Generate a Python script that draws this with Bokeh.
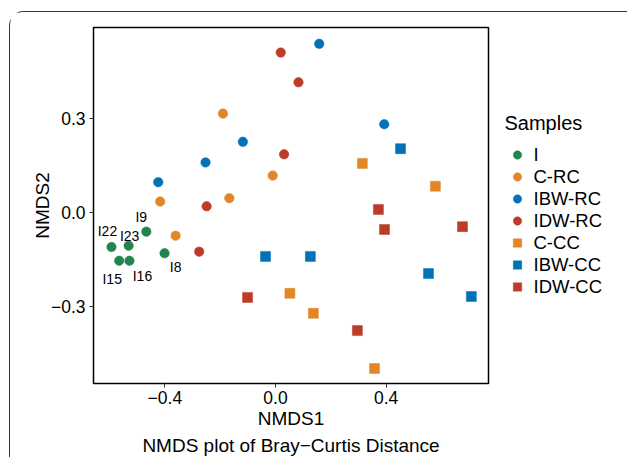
from bokeh.plotting import figure
from bokeh.models import (Range1d, FixedTicker, Legend, LegendItem, LabelSet,
                          ColumnDataSource, Title)
from bokeh.core.properties import value
from bokeh.embed import file_html
from bokeh.resources import INLINE

# ---------------- data ----------------
groups = ["I", "C-RC", "IBW-RC", "IDW-RC", "C-CC", "IBW-CC", "IDW-CC"]
colors = ["#20854E", "#E18727", "#0072B5", "#BC3C29", "#E18727", "#0072B5", "#BC3C29"]
markers = ["circle", "circle", "circle", "circle", "square", "square", "square"]

i_names = ["I9", "I22", "I23", "I15", "I16", "I8"]
i_x = [-0.467, -0.593, -0.531, -0.565, -0.528, -0.401]
i_y = [-0.060, -0.109, -0.105, -0.153, -0.153, -0.129]

crc_x = [-0.190, -0.010, -0.417, -0.167, -0.361]
crc_y = [0.317, 0.119, 0.036, 0.047, -0.073]

ibwrc_x = [0.158, -0.118, -0.253, -0.424, 0.393]
ibwrc_y = [0.540, 0.227, 0.161, 0.098, 0.283]

idwrc_x = [0.019, 0.083, 0.031, -0.249, -0.276]
idwrc_y = [0.512, 0.417, 0.187, 0.021, -0.124]

ccc_x = [0.314, 0.578, 0.052, 0.137, 0.358]
ccc_y = [0.158, 0.085, -0.257, -0.321, -0.497]

ibwcc_x = [0.452, -0.036, 0.126, 0.553, 0.708]
ibwcc_y = [0.205, -0.139, -0.139, -0.194, -0.267]

idwcc_x = [-0.101, 0.372, 0.394, 0.676, 0.296]
idwcc_y = [-0.270, 0.011, -0.053, -0.044, -0.376]

x_ticks = [-0.4, 0.0, 0.4]
x_tick_labels = ["\u22120.4", "0.0", "0.4"]
y_ticks = [-0.3, 0.0, 0.3]
y_tick_labels = ["\u22120.3", "0.0", "0.3"]

series_x = [i_x, crc_x, ibwrc_x, idwrc_x, ccc_x, ibwcc_x, idwcc_x]
series_y = [i_y, crc_y, ibwrc_y, idwrc_y, ccc_y, ibwcc_y, idwcc_y]

# label offsets in screen pixels (style)
lab_dx = [-5, -4, 1, -7, 13, 11]
lab_dy = [15, 16, 10, -18, -15, -14]

FONT = "Liberation Sans"

p = figure(frame_width=395, frame_height=356, output_backend="svg", toolbar_location=None,
           x_range=Range1d(-0.658, 0.770), y_range=Range1d(-0.545, 0.592),
           min_border_left=83, min_border_top=15, min_border_right=137,
           min_border_bottom=74, background_fill_color="white",
           border_fill_color="white")
p.styles = {"margin-left": "8.5px", "margin-top": "10.5px",
            "border": "1.5px solid #333333", "border-bottom": "none",
            "border-radius": "15px 15px 0 0"}

p.xgrid.visible = False
p.ygrid.visible = False
p.outline_line_color = "black"
p.outline_line_width = 1.5

for ax, ticks, labs in [(p.xaxis[0], x_ticks, x_tick_labels), (p.yaxis[0], y_ticks, y_tick_labels)]:
    ax.ticker = FixedTicker(ticks=ticks)
    ax.major_label_overrides = {t: l for t, l in zip(ticks, labs)}
    ax.minor_tick_line_color = None
    ax.axis_line_color = None
    ax.major_tick_in = 0
    ax.major_tick_out = 4
    ax.major_tick_line_color = "#333333"
    ax.major_label_text_font = FONT
    ax.major_label_text_font_size = "17.5px"
    ax.major_label_text_color = "black"
    ax.axis_label_text_font = FONT
    ax.axis_label_text_font_size = "19px"
    ax.axis_label_text_font_style = "normal"
    ax.axis_label_text_color = "black"

p.xaxis.axis_label = "NMDS1"
p.yaxis.axis_label = "NMDS2"
p.xaxis.major_label_standoff = 3
p.yaxis.major_label_standoff = 4
p.xaxis.axis_label_standoff = 1
p.yaxis.axis_label_standoff = -5

items = []
for g, c, m, xs, ys in zip(groups, colors, markers, series_x, series_y):
    sz = 9.5 if m == "circle" else 10
    r = p.scatter(xs, ys, marker=m, size=sz, fill_color=c, line_color=c, line_width=0.5)
    items.append(LegendItem(label=g, renderers=[r]))

src = ColumnDataSource(dict(x=i_x, y=i_y, name=i_names, dx=lab_dx, dy=lab_dy))
labels = LabelSet(x="x", y="y", text="name", source=src, x_offset="dx", y_offset="dy",
                  text_align="center", text_baseline="middle",
                  text_font=value(FONT), text_font_size="14px", text_color="black")
p.add_layout(labels)

legend = Legend(items=items, title="Samples", location="center_left",
                title_text_font=FONT, title_text_font_size="20px",
                title_text_font_style="normal", title_text_color="black",
                label_text_font=FONT, label_text_font_size="18.5px",
                label_text_color="black",
                glyph_width=24, glyph_height=21, label_height=21, spacing=0,
                label_standoff=5, title_standoff=9, padding=0, margin=17,
                border_line_alpha=0, background_fill_alpha=0)
p.add_layout(legend, "right")

p.add_layout(Title(text="NMDS plot of Bray\u2212Curtis Distance", align="center",
                   text_font=FONT, text_font_size="19px", text_font_style="normal",
                   text_color="black", standoff=3), "below")

open("out.html", "w").write(file_html(p, INLINE))
